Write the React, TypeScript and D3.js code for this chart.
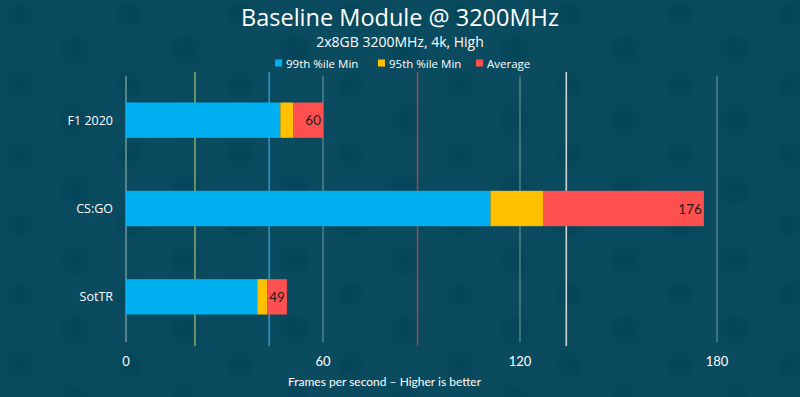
import React from "react";
import * as d3 from "d3";

const categories = ["F1 2020", "CS:GO", "SotTR"];
const p99Min = [47, 111, 40];
const p95Min = [51, 127, 43];
const average = [60, 176, 49];
const seriesNames = ["99th %ile Min", "95th %ile Min", "Average"];
const seriesColors = ["#00b0f0", "#ffc000", "#ff5050"];
const xTicks = [0, 60, 120, 180];
const markerValues = [21, 43.6, 88.8, 134.1];
const markerColors = ["#7fa36a", "#2f93bd", "#8c4d5e", "#c9d3d6"];

const W = 800;
const H = 397;

export default function App() {
  const x = d3.scaleLinear().domain([0, 180]).range([126, 717]);
  const y = d3
    .scaleBand<string>()
    .domain(categories)
    .range([76, 341])
    .paddingInner(0.6)
    .paddingOuter(0.3);

  const rows = categories.map((c, i) => {
    const vals = [p99Min[i], p95Min[i], average[i]];
    const segs = vals.map((v, k) => ({
      x0: k === 0 ? 0 : vals[k - 1],
      x1: v,
      color: seriesColors[k],
    }));
    return { c, segs, avg: average[i] };
  });

  const legendX = [275, 378, 476];

  return (
    <svg
      width={W}
      height={H}
      style={{ position: "absolute", left: 0, top: 0, display: "block" }}
    >
      <defs>
        <filter id="blur" x="-50%" y="-50%" width="200%" height="200%">
          <feGaussianBlur stdDeviation="3.5" />
        </filter>
        <pattern id="dots" width="110" height="70" patternUnits="userSpaceOnUse">
          <circle cx="20" cy="15" r="13" fill="#033f52" opacity="0.5" />
          <circle cx="75" cy="50" r="15" fill="#033f52" opacity="0.4" />
        </pattern>
      </defs>
      <rect x={0} y={0} width={W} height={H} fill="#0a4b5f" />
      <rect x={0} y={0} width={W} height={H} fill="url(#dots)" filter="url(#blur)" />

      {/* gridlines */}
      {xTicks.map((t) => (
        <line
          key={t}
          x1={x(t)}
          x2={x(t)}
          y1={76}
          y2={342}
          stroke={t === 0 ? "#8aa9b3" : "#5f8f9d"}
          strokeWidth={1.2}
        />
      ))}
      {markerValues.map((v, i) => (
        <line
          key={"m" + i}
          x1={x(v)}
          x2={x(v)}
          y1={72}
          y2={346}
          stroke={markerColors[i]}
          strokeWidth={1.6}
        />
      ))}

      {/* bars */}
      {rows.map((r) => (
        <g key={r.c}>
          {r.segs.map((s, k) => (
            <rect
              key={k}
              x={x(s.x0)}
              y={y(r.c)}
              width={x(s.x1) - x(s.x0)}
              height={y.bandwidth()}
              fill={s.color}
            />
          ))}
          <text
            x={x(r.avg) - 2}
            y={(y(r.c) as number) + y.bandwidth() / 2}
            textAnchor="end"
            dominantBaseline="central"
            fontFamily="Lato, 'Open Sans', sans-serif"
            fontSize={13.5}
            fill="#2a1a1a"
          >
            {r.avg}
          </text>
          <text
            x={113}
            y={(y(r.c) as number) + y.bandwidth() / 2}
            textAnchor="end"
            dominantBaseline="central"
            fontFamily="'Open Sans', sans-serif"
            fontSize={12.5}
            fill="#ffffff"
          >
            {r.c}
          </text>
        </g>
      ))}

      {/* tick labels */}
      {xTicks.map((t) => (
        <text
          key={"t" + t}
          x={x(t)}
          y={361}
          textAnchor="middle"
          dominantBaseline="central"
          fontFamily="Lato, sans-serif"
          fontSize={13}
          fill="#ffffff"
        >
          {t}
        </text>
      ))}
      <text
        x={384.5}
        y={381}
        textAnchor="middle"
        dominantBaseline="central"
        fontFamily="Lato, sans-serif"
        fontSize={12}
        fill="#ffffff"
      >
        Frames per second – Higher is better
      </text>

      {/* title */}
      <text
        x={400}
        y={26}
        textAnchor="middle"
        fontFamily="'Open Sans', sans-serif"
        fontSize={23.5}
        fill="#ffffff"
      >
        Baseline Module @ 3200MHz
      </text>
      <text
        x={400}
        y={47}
        textAnchor="middle"
        fontFamily="'Open Sans', sans-serif"
        fontSize={14}
        fill="#ffffff"
      >
        2x8GB 3200MHz, 4k, High
      </text>

      {/* legend */}
      {seriesNames.map((n, i) => (
        <g key={n}>
          <rect x={legendX[i]} y={59.5} width={7} height={7} fill={seriesColors[i]} />
          <text
            x={legendX[i] + 11}
            y={63}
            dominantBaseline="central"
            fontFamily="'Open Sans', sans-serif"
            fontSize={11.5}
            fill="#ffffff"
          >
            {n}
          </text>
        </g>
      ))}
    </svg>
  );
}
